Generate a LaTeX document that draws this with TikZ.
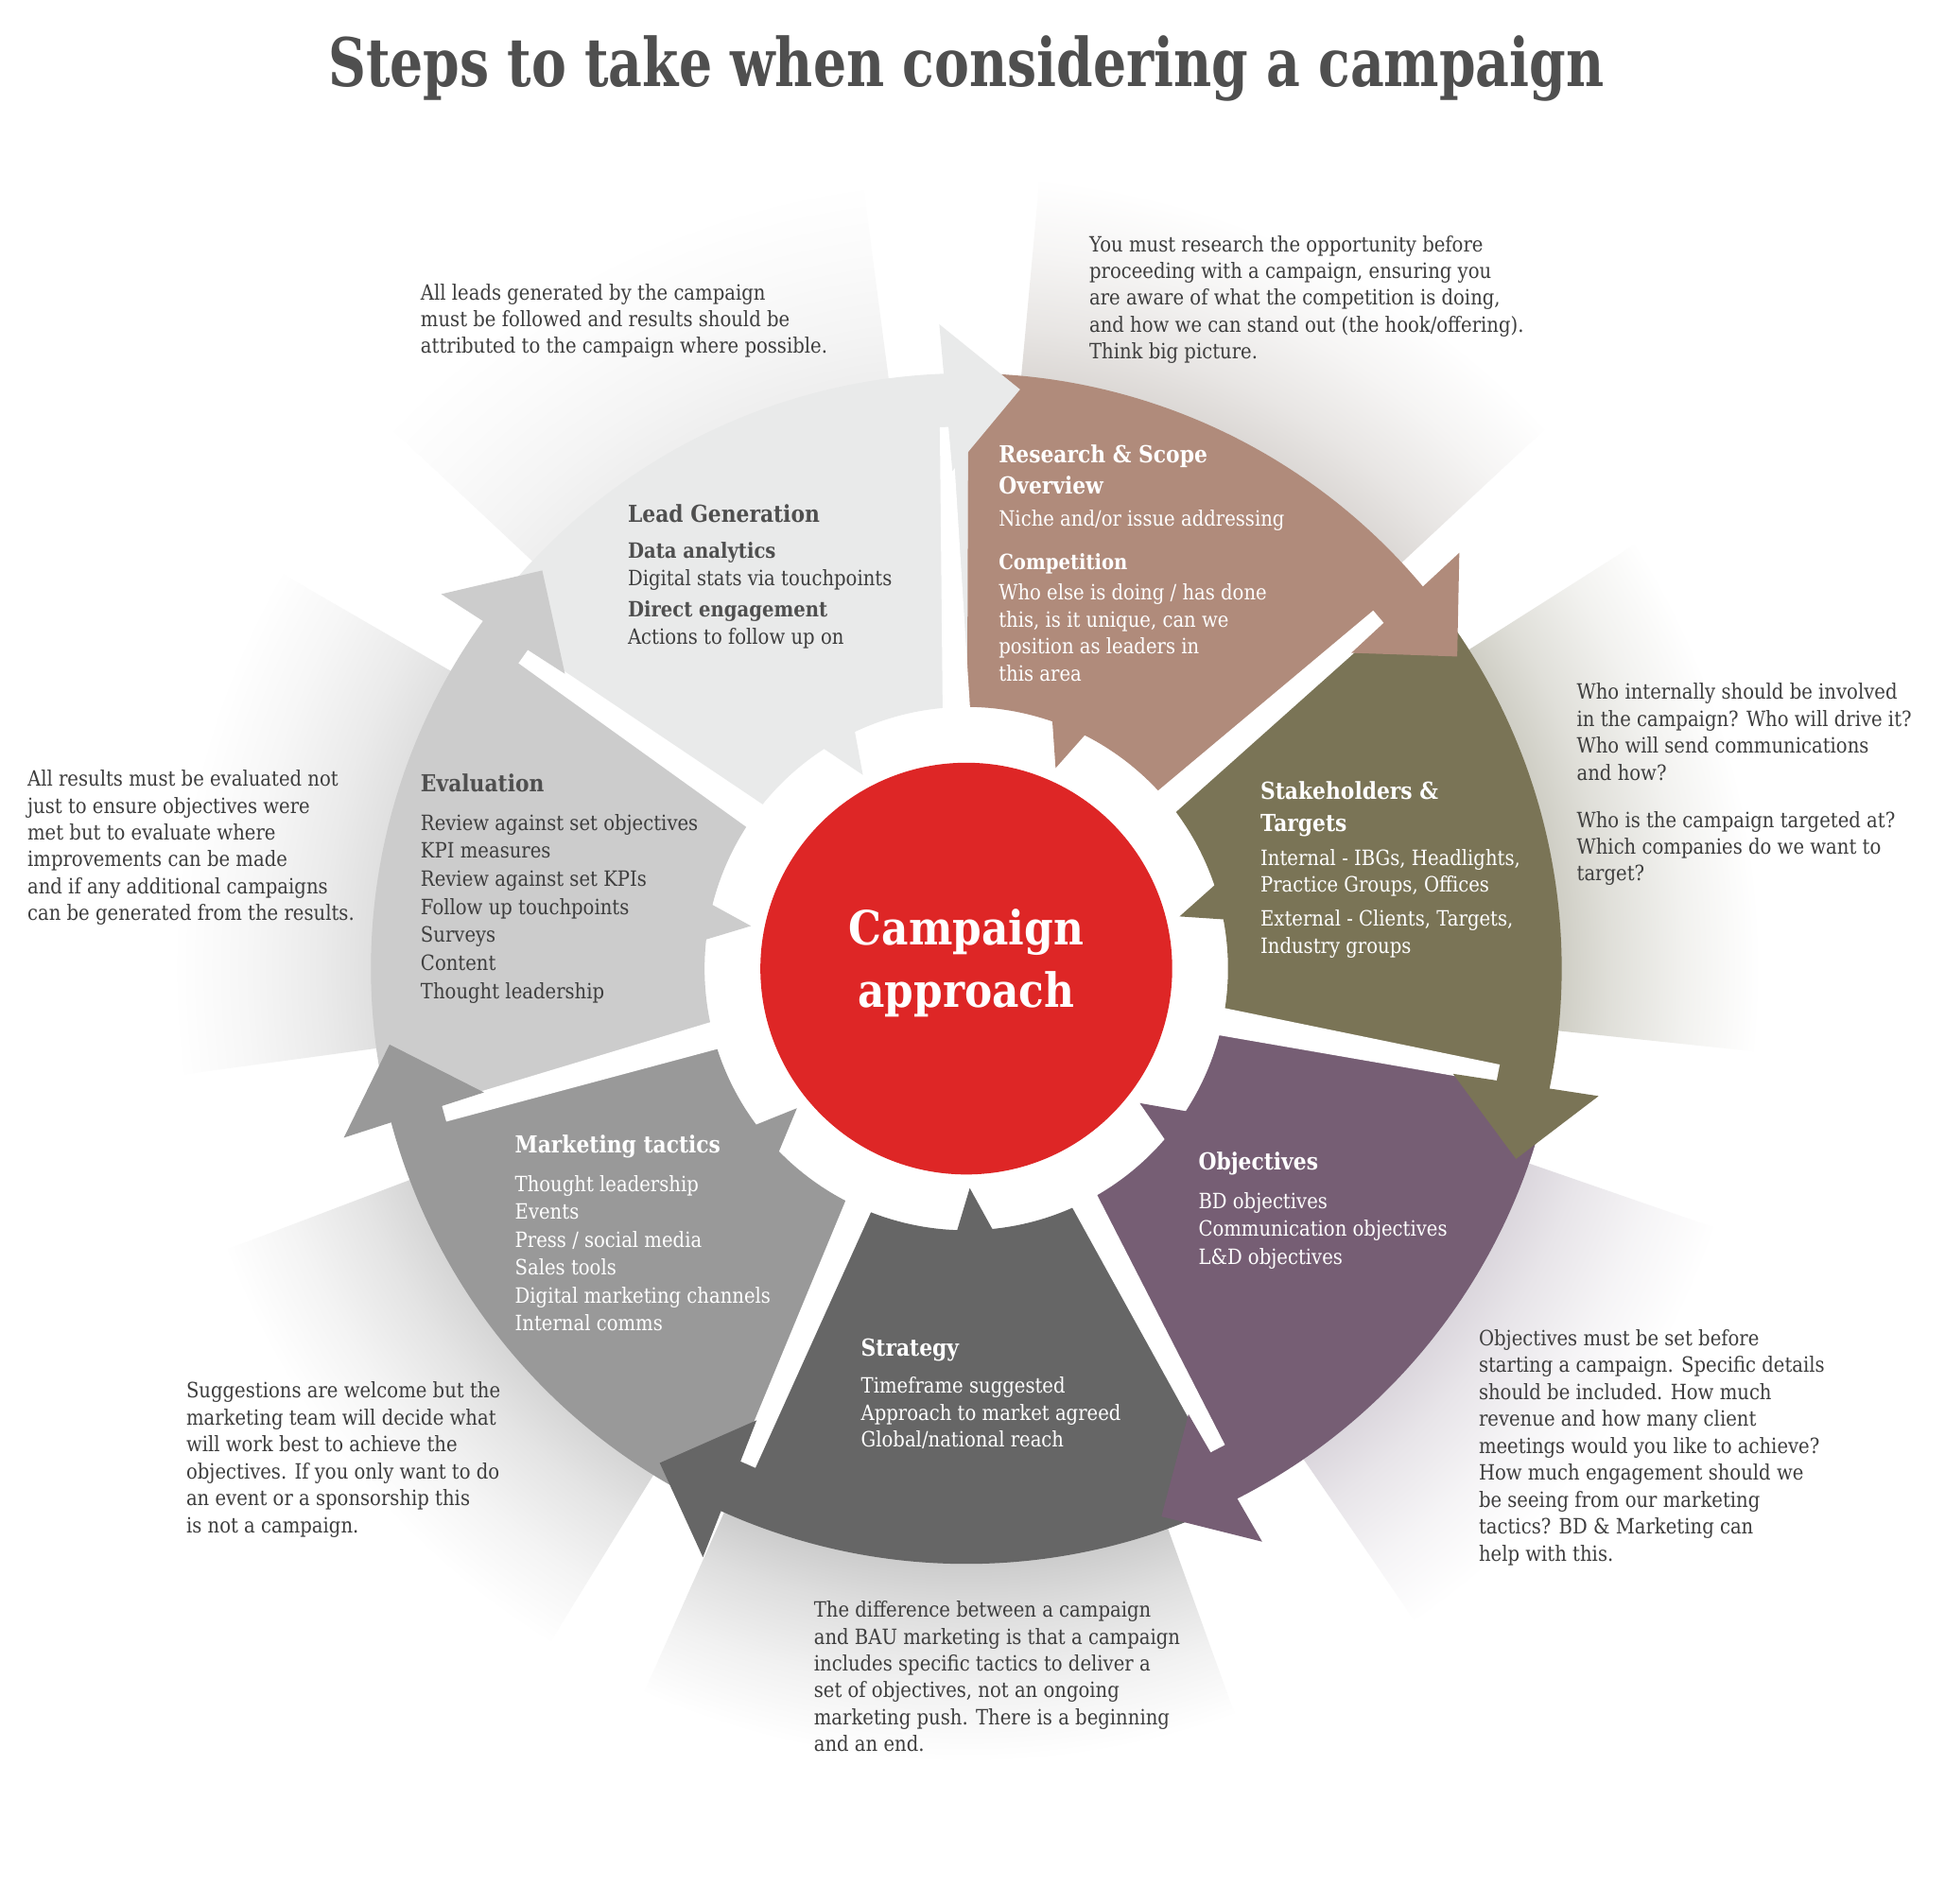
\documentclass[tikz,border=0pt]{standalone}
\usepackage{fontspec}
\setmainfont{DejaVu Serif}[FakeStretch=0.88]
\newfontfamily\titlefont{DejaVu Serif}[FakeStretch=0.78]
\definecolor{cLead}{HTML}{E9EAEA}
\definecolor{cRes}{HTML}{B08B7B}
\definecolor{cStk}{HTML}{7A7456}
\definecolor{cObj}{HTML}{765E74}
\definecolor{cStr}{HTML}{666666}
\definecolor{cMkt}{HTML}{999999}
\definecolor{cEva}{HTML}{CCCCCC}
\definecolor{cRed}{HTML}{DE2626}
\definecolor{cTxt}{HTML}{3E3E3E}
\definecolor{cHead}{HTML}{4F4F4F}
\definecolor{s0}{HTML}{EDEDED}
\definecolor{s1}{HTML}{D9D5D2}
\definecolor{s2}{HTML}{CBCAC0}
\definecolor{s3}{HTML}{D8D3DA}
\definecolor{s4}{HTML}{C8C8C8}
\definecolor{s5}{HTML}{D2D2D2}
\definecolor{s6}{HTML}{DDDDDD}
\newcommand\mkshadow[2]{\pgfdeclareradialshading{#1}{\pgfpoint{0bp}{0bp}}{color(0bp)=(#2); color(11.75bp)=(#2); color(13bp)=(#2!60!white); color(14.5bp)=(#2!25!white); color(16bp)=(white); color(50bp)=(white)}}
\mkshadow{sh0}{s0}\mkshadow{sh1}{s1}\mkshadow{sh2}{s2}\mkshadow{sh3}{s3}
\mkshadow{sh4}{s4}\mkshadow{sh5}{s5}\mkshadow{sh6}{s6}
% sector: color, a1 (ccw), a2 (cw), s (segment start for spike)
\newcommand\wheelsector[4]{\fill[#1] (#2:211pt) -- (#2:480pt) arc[start angle=#2, end angle=#3, radius=480pt] -- (#3:211pt) arc[start angle=#3, end angle={#4-28.9}, radius=211pt] -- ({#4-26}:177pt) -- ({#4-21.2}:211pt) arc[start angle={#4-21.2}, end angle=#2, radius=211pt] -- cycle;}
\newcommand\wheelhead[2]{\fill[#1] ({#2+0.4}:520pt) -- ({#2-7.3}:469pt) -- ({#2-0.4}:401.5pt) -- cycle;}
\newcommand\wheelgap[1]{\fill[white] ({#1+3.3}:198pt) -- ({#1+1.6}:437pt) -- ({#1-0.4}:437pt) -- ({#1-3.3}:198pt) -- cycle;}
\newcommand\wheelshadow[3]{\begin{scope}\clip (#2:440pt) -- (#2:660pt) arc[start angle=#2, end angle=#3, radius=660pt] -- (#3:440pt) -- cycle; \shade[shading=#1] (0,0) circle (1000pt);\end{scope}}
\newcommand\textlines[6]{\foreach \l [count=\i] in {#6} \node[#2] (#1-\i) at (#3, {1535-#4-(\i-1)*#5}) {\l};}
\tikzset{
  txt/.style={inner sep=0pt, anchor=base west, font=\fontsize{17}{20}\selectfont},
  hd/.style={inner sep=0pt, anchor=base west, font=\fontsize{18.9}{22}\selectfont\bfseries},
  sub/.style={inner sep=0pt, anchor=base west, font=\fontsize{17}{20}\selectfont\bfseries},
}
\begin{document}
\begin{tikzpicture}[x=1pt,y=1pt]
\useasboundingbox[fill=white] (0,0) rectangle (1568,1535);
\begin{scope}[shift={(779,754)}]
  % shadows
  \wheelshadow{sh0}{136.8}{97.5}
  \wheelshadow{sh1}{84.7}{43}
  \wheelshadow{sh2}{32.4}{-6}
  \wheelshadow{sh3}{-19.1}{-55.5}
  \wheelshadow{sh4}{-70.2}{-114}
  \wheelshadow{sh5}{-121.7}{-159.2}
  \wheelshadow{sh6}{187.7}{150}
  % sectors
  \wheelsector{cLead}{143.7}{89.8}{144.1}
  \wheelsector{cRes}{89.8}{39.35}{92}
  \wheelsector{cStk}{39.35}{-12.2}{39.75}
  \wheelsector{cObj}{-12.2}{-63.5}{-11.8}
  \wheelsector{cStr}{-63.5}{-114.9}{-63.1}
  \wheelsector{cMkt}{-114.9}{-165.6}{-114.5}
  \wheelsector{cEva}{-165.6}{-216.3}{-165.2}
  % gaps
  \fill[white] (95.5:198pt) -- (92.8:437pt) -- (91.5:437pt) -- (88.9:198pt) -- cycle;
  \wheelgap{39.75}
  \wheelgap{-11.8}
  \wheelgap{-63.1}
  \wheelgap{-114.5}
  \wheelgap{-165.2}
  \wheelgap{144.1}
  % arrowheads
  \wheelhead{cLead}{92}
  \wheelhead{cRes}{39.75}
  \wheelhead{cStk}{-11.8}
  \wheelhead{cObj}{-63.1}
  \wheelhead{cStr}{-114.5}
  \wheelhead{cMkt}{-165.2}
  \wheelhead{cEva}{144.1}
  % centre
  \fill[cRed] (0,0) circle (166pt);
\end{scope}
\node[inner sep=0pt, anchor=base, text=cHead, font=\titlefont\fontsize{54}{62}\selectfont\bfseries] (title) at (779,1465) {Steps to take when considering a campaign};
\node[inner sep=0pt, anchor=base, text=white, font=\fontsize{38}{46}\selectfont\bfseries] (c1) at (779,{1535-762}) {Campaign};
\node[inner sep=0pt, anchor=base, text=white, font=\fontsize{38}{46}\selectfont\bfseries] (c2) at (779,{1535-812}) {approach};
% Lead generation
\node[hd, text=cHead] (lg-h) at (506,{1535-421.5}) {Lead Generation};
\node[sub, text=cHead] (lg-a) at (506,{1535-450}) {Data analytics};
\node[txt, text=cTxt] (lg-b) at (506,{1535-472.5}) {Digital stats via touchpoints};
\node[sub, text=cHead] (lg-c) at (506,{1535-497.5}) {Direct engagement};
\node[txt, text=cTxt] (lg-d) at (506,{1535-519.5}) {Actions to follow up on};
% Research
\textlines{rs-h}{hd, text=white}{805}{373.5}{25}{{Research \& Scope},{Overview}}
\node[txt, text=white] (rs-a) at (805,{1535-424}) {Niche and/or issue addressing};
\node[sub, text=white] (rs-b) at (805,{1535-459}) {Competition};
\textlines{rs-t}{txt, text=white}{805}{484}{21.7}{{Who else is doing / has done},{this, is it unique, can we},{position as leaders in},{this area}}
% Stakeholders
\textlines{st-h}{hd, text=white}{1016}{644.5}{26}{{Stakeholders \&},{Targets}}
\textlines{st-a}{txt, text=white}{1016}{697.5}{22}{{Internal - IBGs, Headlights,},{Practice Groups, Offices}}
\textlines{st-b}{txt, text=white}{1016}{746.5}{22}{{External - Clients, Targets,},{Industry groups}}
% Objectives
\node[hd, text=white] (ob-h) at (966,{1535-943.5}) {Objectives};
\textlines{ob-t}{txt, text=white}{966}{974.5}{22.5}{{BD objectives},{Communication objectives},{L\&D objectives}}
% Strategy
\node[hd, text=white] (sg-h) at (694,{1535-1093.5}) {Strategy};
\textlines{sg-t}{txt, text=white}{694}{1123.5}{21.5}{{Timeframe suggested},{Approach to market agreed},{Global/national reach}}
% Marketing tactics
\node[hd, text=white] (mk-h) at (415,{1535-929.5}) {Marketing tactics};
\textlines{mk-t}{txt, text=white}{415}{960.5}{22.5}{{Thought leadership},{Events},{Press / social media},{Sales tools},{Digital marketing channels},{Internal comms}}
% Evaluation
\node[hd, text=cHead] (ev-h) at (339,{1535-638.5}) {Evaluation};
\textlines{ev-t}{txt, text=cTxt}{339}{669.5}{22.6}{{Review against set objectives},{KPI measures},{Review against set KPIs},{Follow up touchpoints},{Surveys},{Content},{Thought leadership}}
% Outside notes
\textlines{o1}{txt, text=cTxt}{339}{242}{21.5}{{All leads generated by the campaign},{must be followed and results should be},{attributed to the campaign where possible.}}
\textlines{o2}{txt, text=cTxt}{878}{203}{21.6}{{You must research the  opportunity before},{proceeding with a campaign, ensuring you},{are aware of what the competition is doing,},{and how we can stand out (the hook/offering).},{Think big picture.}}
\textlines{o3}{txt, text=cTxt}{1271}{564}{21.7}{{Who internally should be involved},{in the campaign? Who will drive it?},{Who will send communications},{and how?}}
\textlines{o3b}{txt, text=cTxt}{1271}{667}{21.5}{{Who is the campaign targeted at?},{Which companies  do we want to},{target?}}
\textlines{o4}{txt, text=cTxt}{22}{634}{21.6}{{All results must be evaluated not},{just to ensure objectives were},{met but to evaluate where},{improvements can be made},{and if any additional campaigns},{can be generated from the results.}}
\textlines{o5}{txt, text=cTxt}{1192}{1085}{21.7}{{Objectives must be set before},{starting a campaign. Specific details},{should be included. How much},{revenue and how many client},{meetings would you like to achieve?},{How much engagement should we},{be seeing from our marketing},{tactics? BD \& Marketing can},{help with this.}}
\textlines{o6}{txt, text=cTxt}{150}{1127}{21.8}{{Suggestions are welcome but the},{marketing team will decide what},{will work best to achieve the},{objectives. If you only want to do},{an event or a sponsorship this},{is not a campaign.}}
\textlines{o7}{txt, text=cTxt}{656}{1304}{21.6}{{The difference between a campaign},{and BAU marketing is that a campaign},{includes specific tactics to deliver a},{set of objectives, not an ongoing},{marketing push. There is a beginning},{and an end.}}
\end{tikzpicture}
\end{document}
